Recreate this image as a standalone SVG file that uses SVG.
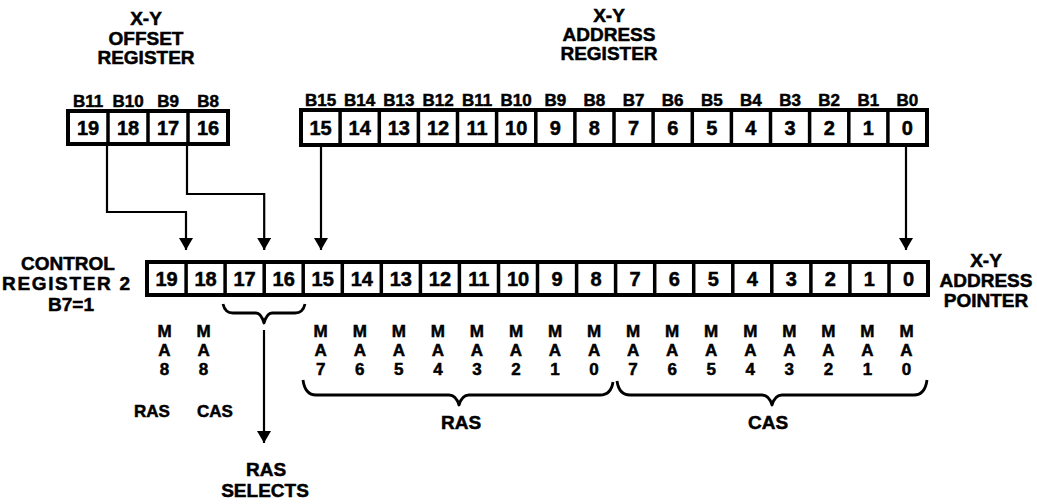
<svg xmlns="http://www.w3.org/2000/svg" width="1037" height="504" viewBox="0 0 1037 504">
<style>
.t{font-family:"Liberation Sans",Arial,Helvetica,sans-serif;font-weight:bold;fill:#000;stroke:#000;stroke-width:0.5;text-anchor:middle}
.ttl{font-size:19px}
.bl{font-size:17px}
.num{font-size:20px}
.ma{font-size:17px}
.box{fill:#fff;stroke:#000;stroke-width:4}
.div{stroke:#000;stroke-width:3.5}
.wire{fill:none;stroke:#000;stroke-width:2.2}
.brace{fill:none;stroke:#000;stroke-width:2.8;stroke-linejoin:round}
</style>
<defs>
<marker id="ah" markerWidth="14" markerHeight="14" refX="12" refY="7" orient="auto" markerUnits="userSpaceOnUse">
<path d="M0,0 L12,7 L0,14 z" fill="#000"/>
</marker>
</defs>

<g id="offset-register">
<text class="t ttl" x="146" y="25">X-Y</text>
<text class="t ttl" x="146" y="45">OFFSET</text>
<text class="t ttl" x="146" y="64">REGISTER</text>
<rect class="box" x="68" y="111" width="160" height="33"/>
<line class="div" x1="108" y1="111" x2="108" y2="144"/>
<line class="div" x1="148" y1="111" x2="148" y2="144"/>
<line class="div" x1="188" y1="111" x2="188" y2="144"/>
<text class="t bl" x="88" y="107">B11</text>
<text class="t bl" x="128" y="107">B10</text>
<text class="t bl" x="168" y="107">B9</text>
<text class="t bl" x="208" y="107">B8</text>
<text class="t num" x="88" y="135">19</text>
<text class="t num" x="128" y="135">18</text>
<text class="t num" x="168" y="135">17</text>
<text class="t num" x="208" y="135">16</text>
</g>

<g id="address-register">
<text class="t ttl" x="609" y="22">X-Y</text>
<text class="t ttl" x="609" y="41">ADDRESS</text>
<text class="t ttl" x="609" y="60">REGISTER</text>
<rect class="box" x="301" y="110" width="626" height="35"/>
<path class="div" d="M340.1,110V145M379.3,110V145M418.4,110V145M457.5,110V145M496.6,110V145M535.8,110V145M574.9,110V145M614,110V145M653.1,110V145M692.3,110V145M731.4,110V145M770.5,110V145M809.6,110V145M848.8,110V145M887.9,110V145"/>
<text class="t bl" x="320.6" y="106">B15</text>
<text class="t bl" x="359.7" y="106">B14</text>
<text class="t bl" x="398.8" y="106">B13</text>
<text class="t bl" x="438" y="106">B12</text>
<text class="t bl" x="477.1" y="106">B11</text>
<text class="t bl" x="516.2" y="106">B10</text>
<text class="t bl" x="555.3" y="106">B9</text>
<text class="t bl" x="594.4" y="106">B8</text>
<text class="t bl" x="633.6" y="106">B7</text>
<text class="t bl" x="672.7" y="106">B6</text>
<text class="t bl" x="711.8" y="106">B5</text>
<text class="t bl" x="750.9" y="106">B4</text>
<text class="t bl" x="790.1" y="106">B3</text>
<text class="t bl" x="829.2" y="106">B2</text>
<text class="t bl" x="868.3" y="106">B1</text>
<text class="t bl" x="907.4" y="106">B0</text>
<text class="t num" x="320.6" y="135">15</text>
<text class="t num" x="359.7" y="135">14</text>
<text class="t num" x="398.8" y="135">13</text>
<text class="t num" x="438" y="135">12</text>
<text class="t num" x="477.1" y="135">11</text>
<text class="t num" x="516.2" y="135">10</text>
<text class="t num" x="555.3" y="135">9</text>
<text class="t num" x="594.4" y="135">8</text>
<text class="t num" x="633.6" y="135">7</text>
<text class="t num" x="672.7" y="135">6</text>
<text class="t num" x="711.8" y="135">5</text>
<text class="t num" x="750.9" y="135">4</text>
<text class="t num" x="790.1" y="135">3</text>
<text class="t num" x="829.2" y="135">2</text>
<text class="t num" x="868.3" y="135">1</text>
<text class="t num" x="907.4" y="135">0</text>
</g>

<g id="control-register">
<text class="t ttl" x="68" y="270">CONTROL</text>
<text class="t ttl" x="66" y="290" textLength="128" lengthAdjust="spacing">REGISTER 2</text>
<text class="t ttl" x="71" y="311">B7=1</text>
<rect class="box" x="147" y="262" width="781" height="33"/>
<path class="div" d="M186.1,262V295M225.1,262V295M264.2,262V295M303.2,262V295M342.3,262V295M381.3,262V295M420.4,262V295M459.4,262V295M498.5,262V295M537.5,262V295M576.6,262V295M615.6,262V295M654.7,262V295M693.7,262V295M732.8,262V295M771.8,262V295M810.9,262V295M849.9,262V295M889,262V295"/>
<text class="t num" x="166.5" y="286">19</text>
<text class="t num" x="205.6" y="286">18</text>
<text class="t num" x="244.6" y="286">17</text>
<text class="t num" x="283.7" y="286">16</text>
<text class="t num" x="322.7" y="286">15</text>
<text class="t num" x="361.8" y="286">14</text>
<text class="t num" x="400.8" y="286">13</text>
<text class="t num" x="439.9" y="286">12</text>
<text class="t num" x="478.9" y="286">11</text>
<text class="t num" x="518" y="286">10</text>
<text class="t num" x="557" y="286">9</text>
<text class="t num" x="596.1" y="286">8</text>
<text class="t num" x="635.1" y="286">7</text>
<text class="t num" x="674.2" y="286">6</text>
<text class="t num" x="713.2" y="286">5</text>
<text class="t num" x="752.3" y="286">4</text>
<text class="t num" x="791.3" y="286">3</text>
<text class="t num" x="830.4" y="286">2</text>
<text class="t num" x="869.4" y="286">1</text>
<text class="t num" x="908.5" y="286">0</text>
</g>

<g id="address-pointer-label">
<text class="t ttl" x="986" y="267">X-Y</text>
<text class="t ttl" x="986" y="287">ADDRESS</text>
<text class="t ttl" x="986" y="307">POINTER</text>
</g>

<g id="connectors">
<path class="wire" d="M107,145V212H186V250" marker-end="url(#ah)"/>
<path class="wire" d="M187,145V194H264.2V250" marker-end="url(#ah)"/>
<path class="wire" d="M321,145V250" marker-end="url(#ah)"/>
<path class="wire" d="M906,145V250" marker-end="url(#ah)"/>
<path class="wire" d="M264,330V443" marker-end="url(#ah)"/>
</g>

<g id="braces">
<path class="brace" d="M223,304 Q225,313 233,313 L256,313 Q261,313 264,323 Q267,313 272,313 L295,313 Q303,313 305,304"/>
<path class="brace" d="M303,380 Q305,395 316,395 L449,395 Q456,395 459,405 Q462,395 469,395 L600,395 Q611,395 613,382"/>
<path class="brace" d="M617,381 Q619,395 630,395 L762,395 Q769,395 772,405 Q775,395 782,395 L914,395 Q925,395 927,380"/>
</g>

<g id="ma-labels">
<text class="t ma" x="164.5" y="337">M<tspan x="164.5" dy="19">A</tspan><tspan x="164.5" dy="19">8</tspan></text>
<text class="t ma" x="203.6" y="337">M<tspan x="203.6" dy="19">A</tspan><tspan x="203.6" dy="19">8</tspan></text>
<text class="t ma" x="320.7" y="337">M<tspan x="320.7" dy="19">A</tspan><tspan x="320.7" dy="19">7</tspan></text>
<text class="t ma" x="359.8" y="337">M<tspan x="359.8" dy="19">A</tspan><tspan x="359.8" dy="19">6</tspan></text>
<text class="t ma" x="398.8" y="337">M<tspan x="398.8" dy="19">A</tspan><tspan x="398.8" dy="19">5</tspan></text>
<text class="t ma" x="437.9" y="337">M<tspan x="437.9" dy="19">A</tspan><tspan x="437.9" dy="19">4</tspan></text>
<text class="t ma" x="476.9" y="337">M<tspan x="476.9" dy="19">A</tspan><tspan x="476.9" dy="19">3</tspan></text>
<text class="t ma" x="516" y="337">M<tspan x="516" dy="19">A</tspan><tspan x="516" dy="19">2</tspan></text>
<text class="t ma" x="555" y="337">M<tspan x="555" dy="19">A</tspan><tspan x="555" dy="19">1</tspan></text>
<text class="t ma" x="594.1" y="337">M<tspan x="594.1" dy="19">A</tspan><tspan x="594.1" dy="19">0</tspan></text>
<text class="t ma" x="633.1" y="337">M<tspan x="633.1" dy="19">A</tspan><tspan x="633.1" dy="19">7</tspan></text>
<text class="t ma" x="672.2" y="337">M<tspan x="672.2" dy="19">A</tspan><tspan x="672.2" dy="19">6</tspan></text>
<text class="t ma" x="711.2" y="337">M<tspan x="711.2" dy="19">A</tspan><tspan x="711.2" dy="19">5</tspan></text>
<text class="t ma" x="750.3" y="337">M<tspan x="750.3" dy="19">A</tspan><tspan x="750.3" dy="19">4</tspan></text>
<text class="t ma" x="789.3" y="337">M<tspan x="789.3" dy="19">A</tspan><tspan x="789.3" dy="19">3</tspan></text>
<text class="t ma" x="828.4" y="337">M<tspan x="828.4" dy="19">A</tspan><tspan x="828.4" dy="19">2</tspan></text>
<text class="t ma" x="867.4" y="337">M<tspan x="867.4" dy="19">A</tspan><tspan x="867.4" dy="19">1</tspan></text>
<text class="t ma" x="906.5" y="337">M<tspan x="906.5" dy="19">A</tspan><tspan x="906.5" dy="19">0</tspan></text>
</g>

<g id="group-labels">
<text class="t ma" x="152" y="417">RAS</text>
<text class="t ma" x="215" y="417">CAS</text>
<text class="t ttl" x="461" y="429">RAS</text>
<text class="t ttl" x="768" y="429">CAS</text>
<text class="t ttl" x="266" y="476" font-size="18">RAS</text>
<text class="t ttl" x="265" y="497" font-size="18">SELECTS</text>
</g>
</svg>
